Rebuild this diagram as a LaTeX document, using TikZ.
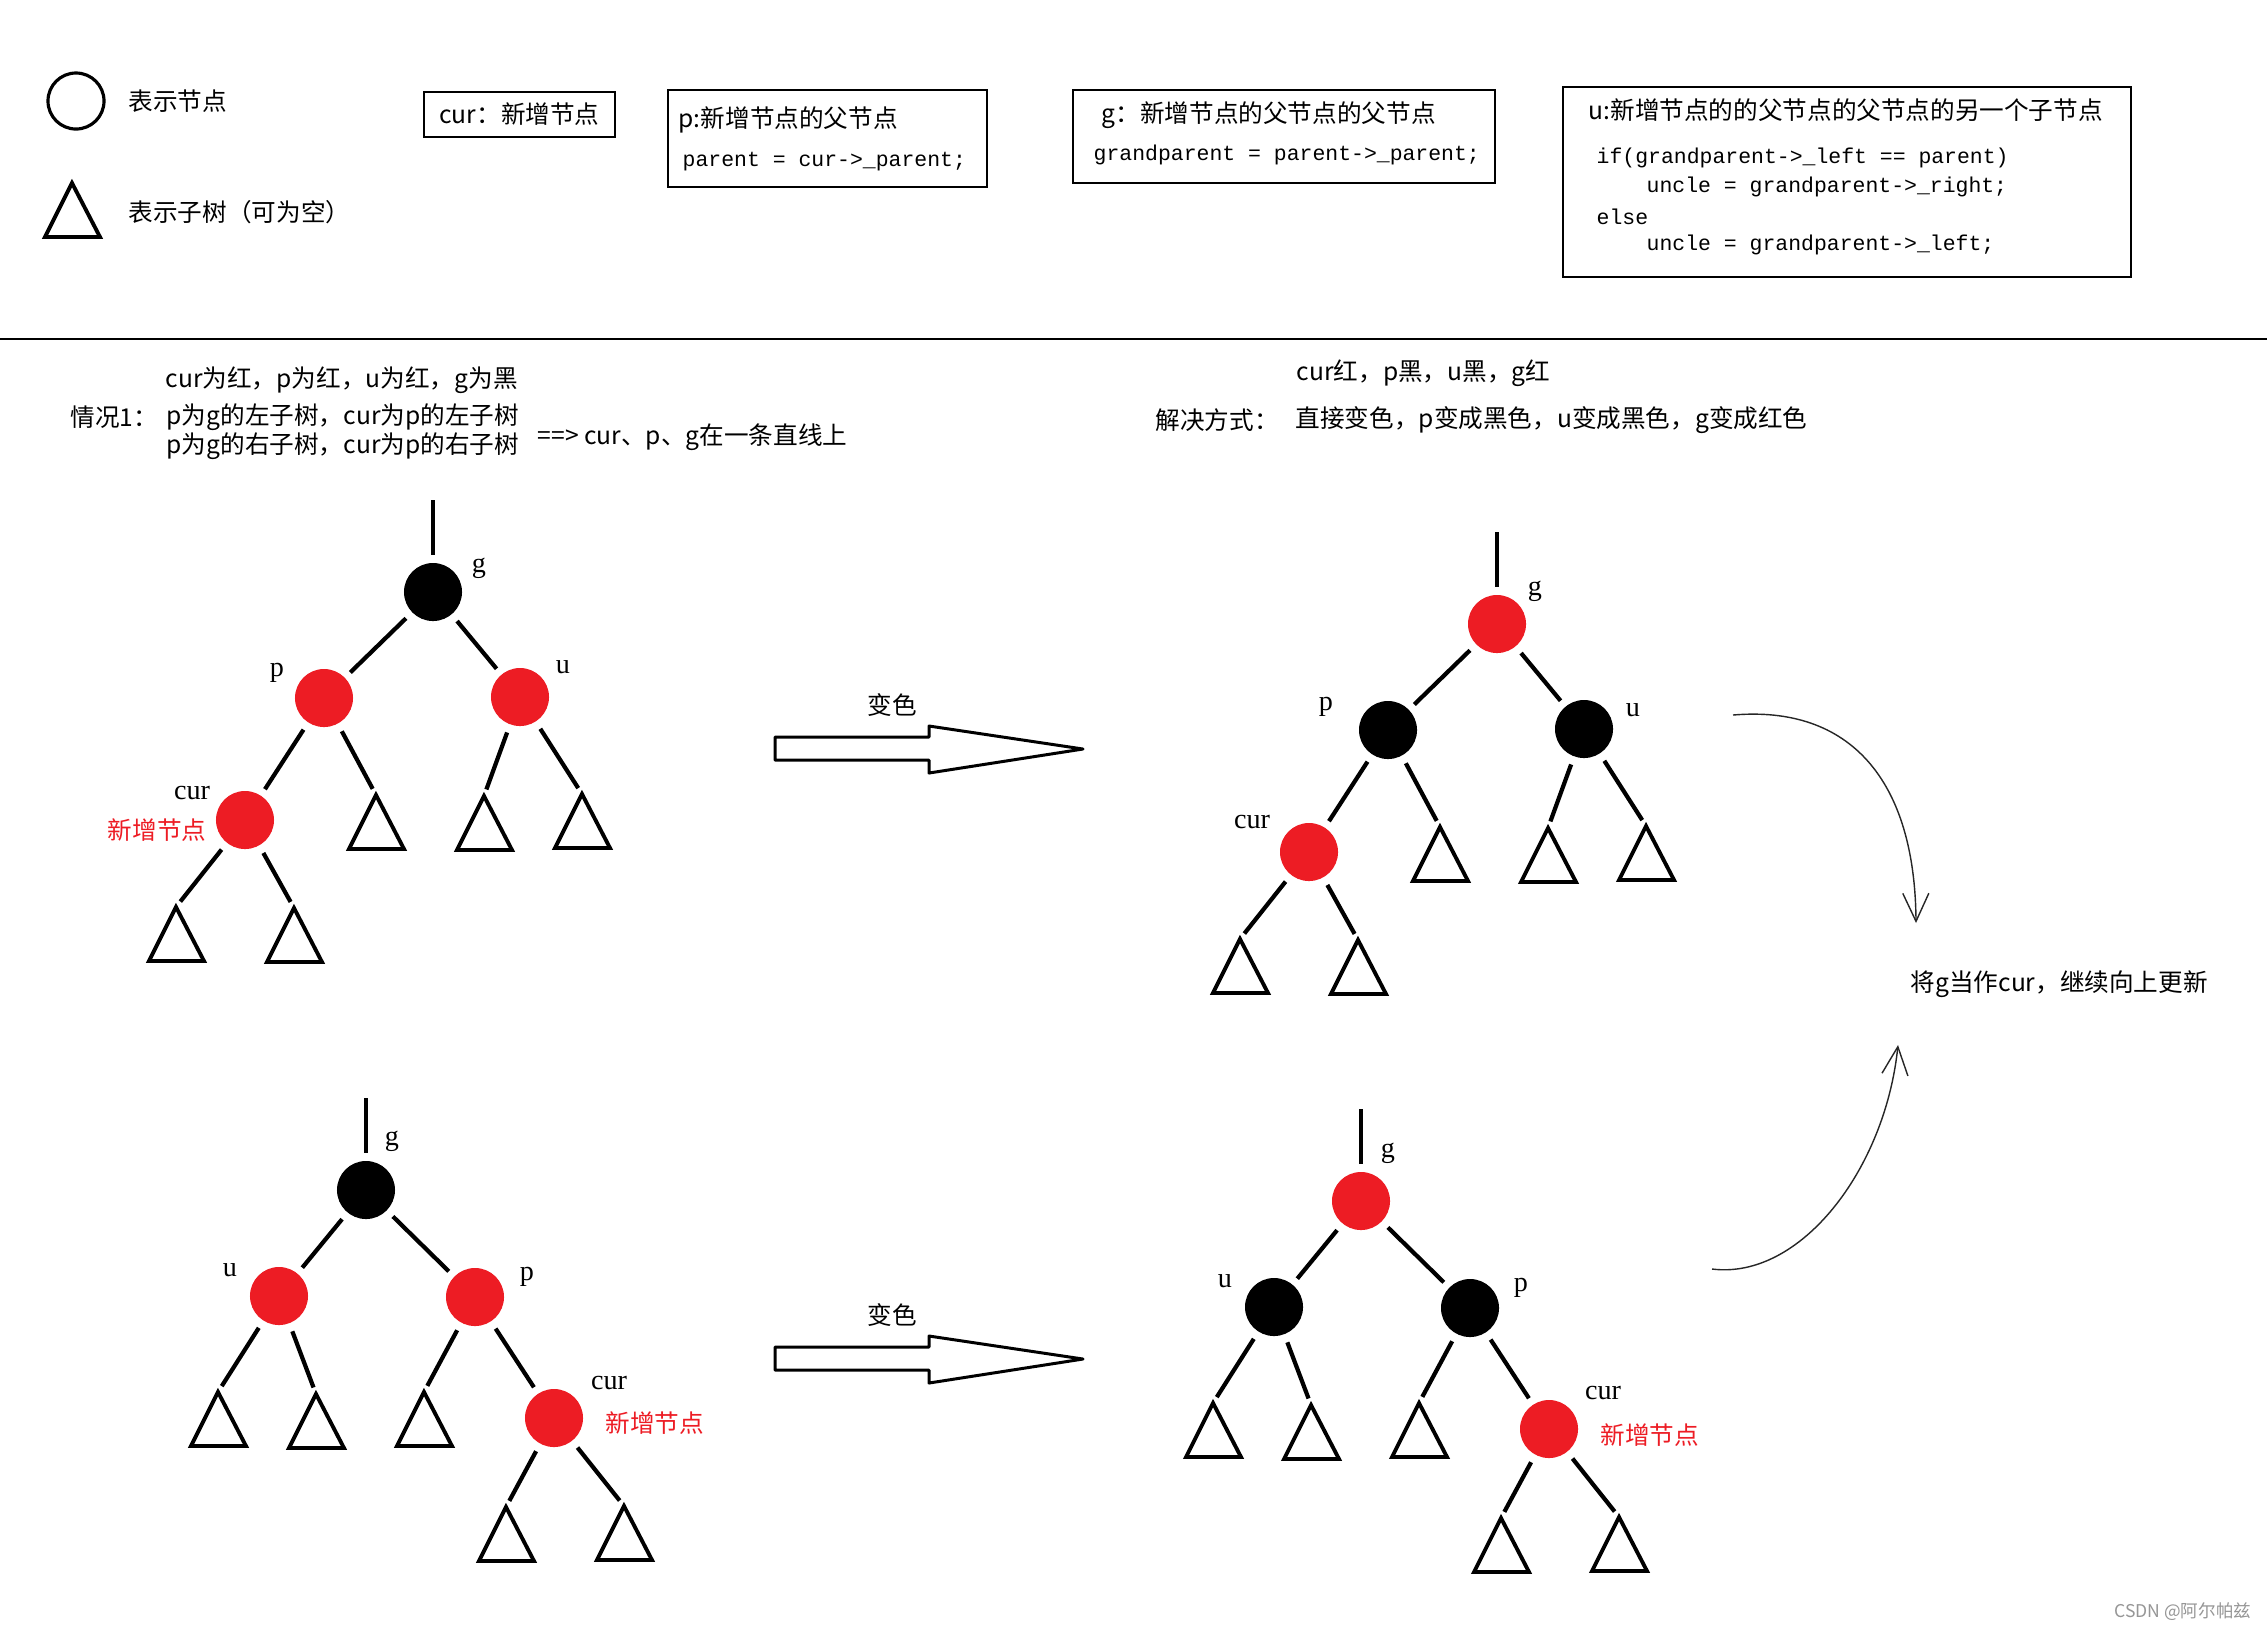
\documentclass[tikz,border=0pt]{standalone}
\usepackage{fontspec}
\setmainfont{Liberation Serif}
\newfontfamily\cjkfam{Noto Sans CJK SC}
\newfontfamily\monofam{Liberation Mono}
\usetikzlibrary{arrows.meta}
\definecolor{NodeRed}{RGB}{237,28,36}
\definecolor{MarkGrey}{RGB}{150,150,150}
\newcommand\cjktext{\cjkfam\fontsize{7.0}{8.4}\selectfont}
\newcommand\codetext{\monofam\fontsize{6.1}{7.5}\selectfont}
\newcommand\lbltext{\fontsize{8}{9.5}\selectfont}
\tikzset{
  rednode/.style={circle,fill=NodeRed,minimum size=0.58cm,inner sep=0pt},
  blacknode/.style={circle,fill=black,minimum size=0.58cm,inner sep=0pt},
  branch/.style={line width=1.2pt,shorten <=0.08cm,shorten >=0.07cm},
  tri/.style={line width=1.1pt},
  lbl/.style={font=\lbltext,inner sep=0pt},
  txt/.style={font=\cjktext,inner sep=0pt,anchor=west},
  newtxt/.style={txt,text=NodeRed},
  codeline/.style={font=\codetext,inner sep=0pt,anchor=west},
  codebox/.style={draw,line width=0.5pt,inner sep=0pt},
  hollow/.style={line width=0.85pt,line join=round},
  thinflow/.style={-{Straight Barb[length=2.8mm,width=2.6mm]},line width=0.4pt,draw=black!85},
  subtree/.pic={
    \coordinate (-top) at (0,0);
    \draw[tri] (0,0) -- (-27,54) -- (28,54) -- cycle;
  },
  recolour/.pic={
    \draw[hollow] (0,0) -- (154,0) -- (154,-11) -- (308,12) -- (154,36) -- (154,23) -- (0,23) -- cycle;
  }
}

\begin{document}
\begin{tikzpicture}[x=0.01cm,y=-0.01cm]
  \path[use as bounding box,fill=white] (0,0) rectangle (2267,1629);

  % legend
  \node[draw,circle,line width=0.9pt,minimum size=0.56cm,inner sep=0pt] (legnode) at (76,101) {};
  \node[txt] (legnodetxt) at (128,101) {表示节点};
  \pic (legtree) at (72,183) {subtree};
  \node[txt] (legtreetxt) at (128,212) {表示子树（可为空）};

  \node[codebox,font=\cjktext,minimum width=1.91cm,minimum height=0.45cm] (curbox) at (519.5,114.5) {cur：新增节点};

  \node[codebox,minimum width=3.19cm,minimum height=0.97cm] (pbox) at (827.5,138.5) {};
  \node[txt] (ptitle) at (678,120) {p:新增节点的父节点};
  \node[codeline] (pcode) at (682,162) {parent = cur->\_parent;};

  \node[codebox,minimum width=4.22cm,minimum height=0.93cm] (gbox) at (1284,136.5) {};
  \node[txt] (gtitle) at (1101,115) {g：新增节点的父节点的父节点};
  \node[codeline] (gcode) at (1093,155) {grandparent = parent->\_parent;};

  \node[codebox,minimum width=5.68cm,minimum height=1.90cm] (ubox) at (1847,182) {};
  \node[txt] (utitle) at (1588,110) {u:新增节点的的父节点的父节点的另一个子节点};
  \node[codeline] (ucode1) at (1596,158) {if(grandparent->\_left == parent)};
  \node[codeline] (ucode2) at (1646,187) {uncle = grandparent->\_right;};
  \node[codeline] (ucode3) at (1596,217) {else};
  \node[codeline] (ucode4) at (1646,245) {uncle = grandparent->\_left;};

  \draw[line width=0.6pt] (0,339) -- (2267,339);

  % case text
  \node[txt] (caseA) at (165,380) {cur为红，p为红，u为红，g为黑};
  \node[txt] (caseB) at (70,417) {情况1：};
  \node[txt] (caseC) at (166,417) {p为g的左子树，cur为p的左子树};
  \node[txt] (caseD) at (166,446) {p为g的右子树，cur为p的右子树};
  \node[txt] (caseE) at (537,437) {==> cur、p、g在一条直线上};
  \node[txt] (fixA) at (1296,373) {cur红，p黑，u黑，g红};
  \node[txt] (fixB) at (1155,420) {解决方式：};
  \node[txt] (fixC) at (1295,420) {直接变色，p变成黑色，u变成黑色，g变成红色};

  % tree 1
  \begin{scope}[shift={(433,592)}]
    \coordinate (r1) at (0,-92);
    \node[blacknode] (g1) at (0,0) {};
    \node[rednode] (p1) at (-109,106) {};
    \node[rednode] (u1) at (87,105) {};
    \node[rednode] (c1) at (-188,228) {};
    \pic (t1a) at (-257,315) {subtree};
    \pic (t1b) at (-139,316) {subtree};
    \pic (t1c) at (-57,203) {subtree};
    \pic (t1d) at (51,204) {subtree};
    \pic (t1e) at (149,202) {subtree};
    \node[lbl] (g1lbl) at (46,-24) {g};
    \node[lbl] (p1lbl) at (-156,81) {p};
    \node[lbl] (u1lbl) at (130,75) {u};
    \node[lbl] (c1lbl) at (-241,201) {cur};
    \node[newtxt,anchor=east] (c1new) at (-226,238) {新增节点};
    \draw[branch,shorten <=0pt] (r1) -- (g1);
    \draw[branch] (g1) -- (p1);
    \draw[branch] (g1) -- (u1);
    \draw[branch] (p1) -- (c1);
    \draw[branch] (p1) -- (t1c-top);
    \draw[branch] (u1) -- (t1d-top);
    \draw[branch] (u1) -- (t1e-top);
    \draw[branch] (c1) -- (t1a-top);
    \draw[branch] (c1) -- (t1b-top);
  \end{scope}

  % tree 2
  \begin{scope}[shift={(1497,624)}]
    \coordinate (r2) at (0,-92);
    \node[rednode] (g2) at (0,0) {};
    \node[blacknode] (p2) at (-109,106) {};
    \node[blacknode] (u2) at (87,105) {};
    \node[rednode] (c2) at (-188,228) {};
    \pic (t2a) at (-257,315) {subtree};
    \pic (t2b) at (-139,316) {subtree};
    \pic (t2c) at (-57,203) {subtree};
    \pic (t2d) at (51,204) {subtree};
    \pic (t2e) at (149,202) {subtree};
    \node[lbl] (g2lbl) at (38,-33) {g};
    \node[lbl] (p2lbl) at (-171,83) {p};
    \node[lbl] (u2lbl) at (136,86) {u};
    \node[lbl] (c2lbl) at (-245,198) {cur};
    \draw[branch,shorten <=0pt] (r2) -- (g2);
    \draw[branch] (g2) -- (p2);
    \draw[branch] (g2) -- (u2);
    \draw[branch] (p2) -- (c2);
    \draw[branch] (p2) -- (t2c-top);
    \draw[branch] (u2) -- (t2d-top);
    \draw[branch] (u2) -- (t2e-top);
    \draw[branch] (c2) -- (t2a-top);
    \draw[branch] (c2) -- (t2b-top);
  \end{scope}

  % tree 3
  \begin{scope}[shift={(366,1190)}]
    \coordinate (r3) at (0,-92);
    \node[blacknode] (g3) at (0,0) {};
    \node[rednode] (u3) at (-87,106) {};
    \node[rednode] (p3) at (109,107) {};
    \node[rednode] (c3) at (188,228) {};
    \pic (t3a) at (-148,202) {subtree};
    \pic (t3b) at (-50,204) {subtree};
    \pic (t3c) at (58,202) {subtree};
    \pic (t3d) at (140,317) {subtree};
    \pic (t3e) at (258,316) {subtree};
    \node[lbl] (g3lbl) at (26,-49) {g};
    \node[lbl] (u3lbl) at (-136,80) {u};
    \node[lbl] (p3lbl) at (161,87) {p};
    \node[lbl] (c3lbl) at (243,193) {cur};
    \node[newtxt] (c3new) at (239,233) {新增节点};
    \draw[branch,shorten <=0pt] (r3) -- (g3);
    \draw[branch] (g3) -- (u3);
    \draw[branch] (g3) -- (p3);
    \draw[branch] (u3) -- (t3a-top);
    \draw[branch] (u3) -- (t3b-top);
    \draw[branch] (p3) -- (t3c-top);
    \draw[branch] (p3) -- (c3);
    \draw[branch] (c3) -- (t3d-top);
    \draw[branch] (c3) -- (t3e-top);
  \end{scope}

  % tree 4
  \begin{scope}[shift={(1361,1201)}]
    \coordinate (r4) at (0,-92);
    \node[rednode] (g4) at (0,0) {};
    \node[blacknode] (u4) at (-87,106) {};
    \node[blacknode] (p4) at (109,107) {};
    \node[rednode] (c4) at (188,228) {};
    \pic (t4a) at (-148,202) {subtree};
    \pic (t4b) at (-50,204) {subtree};
    \pic (t4c) at (58,202) {subtree};
    \pic (t4d) at (140,317) {subtree};
    \pic (t4e) at (258,316) {subtree};
    \node[lbl] (g4lbl) at (27,-48) {g};
    \node[lbl] (u4lbl) at (-136,80) {u};
    \node[lbl] (p4lbl) at (160,87) {p};
    \node[lbl] (c4lbl) at (242,192) {cur};
    \node[newtxt] (c4new) at (239,234) {新增节点};
    \draw[branch,shorten <=0pt] (r4) -- (g4);
    \draw[branch] (g4) -- (u4);
    \draw[branch] (g4) -- (p4);
    \draw[branch] (u4) -- (t4a-top);
    \draw[branch] (u4) -- (t4b-top);
    \draw[branch] (p4) -- (t4c-top);
    \draw[branch] (p4) -- (c4);
    \draw[branch] (c4) -- (t4d-top);
    \draw[branch] (c4) -- (t4e-top);
  \end{scope}

  % recolour arrows
  \pic (recolourA) at (775,737) {recolour};
  \node[txt,anchor=center] (recolourAtxt) at (892,705) {变色};
  \pic (recolourB) at (775,1347) {recolour};
  \node[txt,anchor=center] (recolourBtxt) at (892,1315) {变色};

  % move up
  \node[txt] (moveup) at (1910,984) {将g当作cur，继续向上更新};
  \coordinate (loopA) at (1733,715);
  \coordinate (loopB) at (1916,923);
  \coordinate (loopC) at (1712,1269);
  \coordinate (loopD) at (1898,1045);
  \draw[thinflow] (loopA) .. controls (1850,705) and (1915,780) .. (loopB);
  \draw[thinflow] (loopC) .. controls (1800,1280) and (1885,1170) .. (loopD);

  \node[font=\cjkfam\fontsize{5}{6}\selectfont,text=MarkGrey,anchor=east,inner sep=0pt] (mark) at (2252,1612) {CSDN @阿尔帕兹};
\end{tikzpicture}
\end{document}
